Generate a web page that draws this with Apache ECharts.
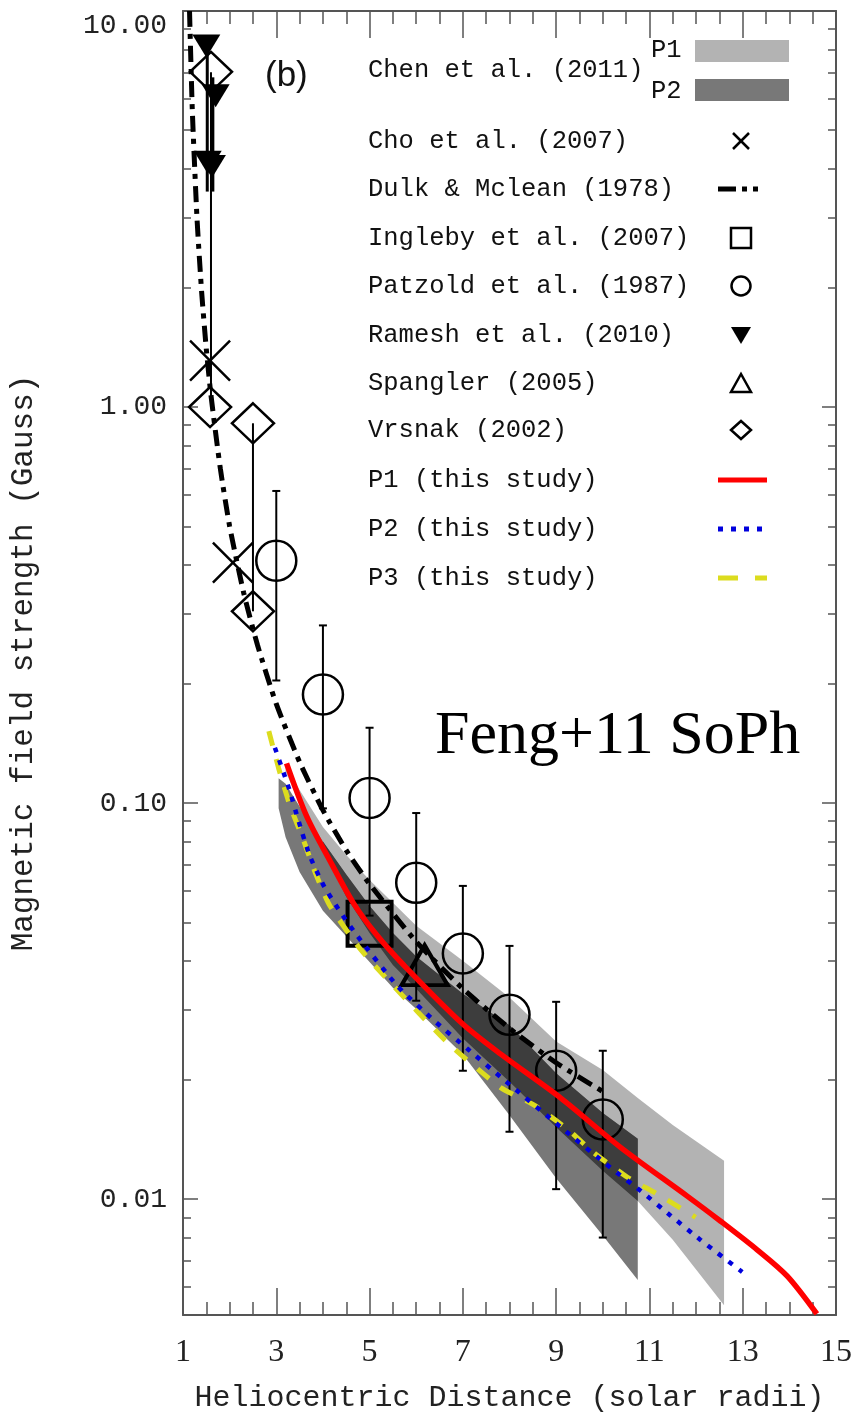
<!DOCTYPE html>
<html><head><meta charset="utf-8">
<script src="https://cdn.jsdelivr.net/npm/echarts@6/dist/echarts.min.js"></script>
<style>html,body{margin:0;padding:0;background:#fff}#c{width:859px;height:1418px}</style>
</head><body><div id="c"></div>
<script>
// ---------- data ----------
const X_TICK_LABELS = ['1','3','5','7','9','11','13','15'];
const Y_MAJOR = [0.01, 0.1, 1, 10];
const Y_MINOR = [0.006,0.007,0.008,0.009,0.02,0.03,0.04,0.05,0.06,0.07,0.08,0.09,0.2,0.3,0.4,0.5,0.6,0.7,0.8,0.9,2,3,4,5,6,7,8,9];

// Chen et al. (2011) bands
const P1_X  = [3.2, 3.5, 4.0, 4.5, 5.0, 5.5, 6.0, 7.0, 8.0, 9.0, 10.0, 10.75, 11.5, 12.6];
const P1_HI = [0.124,0.108,0.087,0.074,0.064,0.056,0.049,0.040,0.0323,0.0250,0.0212,0.0180,0.0154,0.0125];
const P1_LO = [0.120,0.100,0.077,0.058,0.047,0.039,0.034,0.0255,0.0198,0.0152,0.0118,0.0099,0.0079,0.0054];
const P2_X  = [3.05, 3.2, 3.5, 4.0, 4.5, 5.0, 5.5, 6.0, 7.0, 8.0, 9.0, 10.0, 10.75];
const P2_HI = [0.1156,0.112,0.098,0.080,0.066,0.055,0.047,0.041,0.033,0.0275,0.0208,0.0165,0.0142];
const P2_LO = [0.0971,0.082,0.067,0.0535,0.0461,0.0397,0.0342,0.0302,0.0232,0.0163,0.0113,0.0081,0.00625];

// Dulk & McLean (1978)
const DULK_X = [1.14,1.2,1.3,1.4,1.5,1.6,1.8,2.0,2.3,2.6,3.0,3.5,4.0,4.5,5.0,6.0,7.0,8.0,9.0,10.0];
const DULK_Y = [10.0,5.6,3.0,1.95,1.40,1.07,0.70,0.50,0.34,0.25,0.178,0.127,0.096,0.076,0.0625,0.0447,0.034,0.027,0.0221,0.0187];

// Cho et al. (2007)
const CHO_X = [1.58, 2.07];
const CHO_Y = [1.31, 0.405];
// Ingleby et al. (2007)
const ING_X = [5.0];
const ING_Y = [0.0496];
// Patzold et al. (1987)
const PATZ_X  = [3, 4, 5, 6, 7, 8, 9, 10];
const PATZ_Y  = [0.409, 0.188, 0.103, 0.0629, 0.0417, 0.0292, 0.0211, 0.0159];
const PATZ_LO = [0.204, 0.097, 0.052, 0.0317, 0.0211, 0.0148, 0.0106, 0.0080];
const PATZ_HI = [0.614, 0.281, 0.155, 0.0944, 0.0618, 0.0436, 0.0315, 0.0237];
// Ramesh et al. (2010)
const RAM_X = [1.50, 1.70, 1.53, 1.62];
const RAM_Y = [8.16, 6.11, 4.15, 4.05];
const RAM_BAR_X  = [1.52, 1.64];
const RAM_BAR_LO = [3.5, 3.5];
const RAM_BAR_HI = [8.2, 6.8];
// Spangler (2005)
const SPA_X = [6.18];
const SPA_Y = [0.039];
// Vrsnak (2002)
const VRS_X = [1.60, 1.58, 2.50, 2.50];
const VRS_Y = [7.02, 1.00, 0.91, 0.305];
const VRS_BAR_X  = [1.60, 2.50];
const VRS_BAR_LO = [1.0, 0.305];
const VRS_BAR_HI = [7.0, 0.91];

// This study
const P1L_X = [3.22,3.65,4.14,4.65,5.15,5.74,6.98,7.82,9.10,10.38,11.81,12.52,13.31,13.95,14.59];
const P1L_Y = [0.126,0.0927,0.0719,0.0560,0.0465,0.0389,0.0278,0.0232,0.0180,0.01352,0.01018,0.00881,0.00745,0.0064,0.00513];
const P2L_X = [2.97,3.27,3.48,3.71,4.01,4.36,4.75,5.6,6.39,7.11,7.82,9.10,10.17,10.81,11.45,12.09,12.99];
const P2L_Y = [0.138,0.109,0.090,0.074,0.0621,0.0534,0.046,0.0345,0.0282,0.0239,0.0203,0.0152,0.0120,0.0105,0.0091,0.0079,0.00655];
const P3L_X = [2.84,3.05,3.29,3.59,3.82,4.14,4.83,6.0,6.71,7.82,8.52,9.25,9.81,10.53,11.17,11.99];
const P3L_Y = [0.152,0.1225,0.0989,0.0802,0.0675,0.0553,0.0424,0.030,0.0246,0.0191,0.0173,0.0150,0.0131,0.01136,0.0103,0.0090];

// ---------- helpers ----------
const zip = (xs, ys) => xs.map((x, i) => [x, ys[i]]);
const zip3 = (xs, a, b) => xs.map((x, i) => [x, a[i], b[i]]);

// overlap of the two Chen bands (same x positions)
const OV = [];
P2_X.forEach((x, i) => {
  const j = P1_X.indexOf(x);
  if (j < 0) return;
  const lo = Math.max(P1_LO[j], P2_LO[i]);
  const hi = Math.min(P1_HI[j], P2_HI[i]);
  if (hi > lo) OV.push([x, lo, hi]);
});

function band(name, data, color, z) {
  return {
    type: 'custom', name, data, z, silent: true, clip: true,
    encode: { x: 0, y: [1, 2] },
    renderItem: (params, api) => {
      if (params.dataIndex !== 0) return null;
      const pts = [];
      for (let i = 0; i < data.length; i++) pts.push(api.coord([data[i][0], data[i][2]]));
      for (let i = data.length - 1; i >= 0; i--) pts.push(api.coord([data[i][0], data[i][1]]));
      return { type: 'polygon', shape: { points: pts }, style: { fill: color } };
    }
  };
}
function errbars(name, data, width, cap, z) {
  return {
    type: 'custom', name, data, z, silent: true, clip: true,
    encode: { x: 0, y: [1, 2] },
    renderItem: (params, api) => {
      const lo = api.coord([api.value(0), api.value(1)]);
      const hi = api.coord([api.value(0), api.value(2)]);
      const st = { stroke: '#000', lineWidth: width };
      const ch = [{ type: 'line', shape: { x1: lo[0], y1: lo[1], x2: hi[0], y2: hi[1] }, style: st }];
      if (cap) {
        ch.push({ type: 'line', shape: { x1: lo[0] - cap, y1: lo[1], x2: lo[0] + cap, y2: lo[1] }, style: st });
        ch.push({ type: 'line', shape: { x1: hi[0] - cap, y1: hi[1], x2: hi[0] + cap, y2: hi[1] }, style: st });
      }
      return { type: 'group', children: ch };
    }
  };
}
const openStyle = (w) => ({ color: 'rgba(0,0,0,0)', borderColor: '#000', borderWidth: w, opacity: 1 });

const AX = '#555';
const MONO = '"Liberation Mono", "DejaVu Sans Mono", monospace';
const SERIF = '"Liberation Serif", "DejaVu Serif", serif';
const yBase = { type: 'log', min: 0.0051, max: 10, logBase: 10, splitLine: { show: false }, axisPointer: { show: false } };

// ---------- legend (graphic) ----------
const LEG_TEXT_X = 368, LEG_SYM_X = 741;
const legendRows = [
  ['Chen et al. (2011)', 70], ['Cho et al. (2007)', 141], ['Dulk & Mclean (1978)', 189],
  ['Ingleby et al. (2007)', 238], ['Patzold et al. (1987)', 286], ['Ramesh et al. (2010)', 335],
  ['Spangler (2005)', 383], ['Vrsnak (2002)', 430], ['P1 (this study)', 480],
  ['P2 (this study)', 529], ['P3 (this study)', 578]
];
const tStyle = (text, x, y, size, fam, align) => ({ type: 'text', z: 100, style: { text, x, y, font: size + 'px ' + fam, fill: '#111', align: align || 'left', verticalAlign: 'middle' } });
const graphics = legendRows.map(r => tStyle(r[0], LEG_TEXT_X, r[1], 25.5, MONO));
graphics.push(tStyle('P1', 651, 50, 25.5, MONO), tStyle('P2', 651, 91, 25.5, MONO));
graphics.push({ type: 'rect', z: 100, shape: { x: 695, y: 40, width: 94, height: 22 }, style: { fill: '#b3b3b3' } });
graphics.push({ type: 'rect', z: 100, shape: { x: 695, y: 79, width: 94, height: 22 }, style: { fill: '#787878' } });
const S = 8;
graphics.push({ type: 'line', z: 100, shape: { x1: LEG_SYM_X - S, y1: 141 - S, x2: LEG_SYM_X + S, y2: 141 + S }, style: { stroke: '#000', lineWidth: 2.5 } });
graphics.push({ type: 'line', z: 100, shape: { x1: LEG_SYM_X - S, y1: 141 + S, x2: LEG_SYM_X + S, y2: 141 - S }, style: { stroke: '#000', lineWidth: 2.5 } });
graphics.push({ type: 'line', z: 100, shape: { x1: 718, y1: 189, x2: 767, y2: 189 }, style: { stroke: '#000', lineWidth: 5, lineDash: [18, 6, 5, 6, 5, 20] } });
graphics.push({ type: 'rect', z: 100, shape: { x: LEG_SYM_X - 10, y: 238 - 10, width: 20, height: 20 }, style: { fill: 'none', stroke: '#000', lineWidth: 2.5 } });
graphics.push({ type: 'circle', z: 100, shape: { cx: LEG_SYM_X, cy: 286, r: 9.5 }, style: { fill: 'none', stroke: '#000', lineWidth: 2.5 } });
graphics.push({ type: 'polygon', z: 100, shape: { points: [[LEG_SYM_X - 10, 327], [LEG_SYM_X + 10, 327], [LEG_SYM_X, 344]] }, style: { fill: '#000' } });
graphics.push({ type: 'polygon', z: 100, shape: { points: [[LEG_SYM_X - 10, 392], [LEG_SYM_X + 10, 392], [LEG_SYM_X, 374]] }, style: { fill: 'none', stroke: '#000', lineWidth: 2.5 } });
graphics.push({ type: 'polygon', z: 100, shape: { points: [[LEG_SYM_X - 10, 430], [LEG_SYM_X, 421], [LEG_SYM_X + 10, 430], [LEG_SYM_X, 439]] }, style: { fill: 'none', stroke: '#000', lineWidth: 2.5 } });
graphics.push({ type: 'line', z: 100, shape: { x1: 718, y1: 480, x2: 767, y2: 480 }, style: { stroke: '#ff0000', lineWidth: 5 } });
graphics.push({ type: 'line', z: 100, shape: { x1: 718, y1: 529, x2: 764, y2: 529 }, style: { stroke: '#0000dd', lineWidth: 5, lineDash: [5, 8] } });
graphics.push({ type: 'line', z: 100, shape: { x1: 718, y1: 578, x2: 767, y2: 578 }, style: { stroke: '#dcdc1e', lineWidth: 5, lineDash: [20, 17] } });
graphics.push(tStyle('(b)', 265, 76, 35, '"Liberation Sans", Arial, sans-serif'));
graphics.push({ type: 'text', z: 100, style: { text: 'Feng+11 SoPh', x: 435, y: 768, font: '62px "Liberation Serif", "Times New Roman", serif', fill: '#000', align: 'left', verticalAlign: 'bottom' } });

const option = {
  animation: false,
  backgroundColor: '#fff',
  grid: { left: 181, right: 23, top: 11, bottom: 100, containLabel: false },
  xAxis: [
    { type: 'value', position: 'bottom', min: 1, max: 15, interval: 2,
      axisLine: { show: true, lineStyle: { color: AX, width: 2 } },
      axisTick: { inside: true, length: 27, lineStyle: { color: AX, width: 1.5 } },
      minorTick: { show: true, splitNumber: 4, length: 13, lineStyle: { color: AX, width: 1.5 } },
      splitLine: { show: false },
      axisLabel: { margin: 22, fontSize: 32, fontFamily: SERIF, color: '#222', formatter: v => String(v) },
      name: 'Heliocentric Distance (solar radii)', nameLocation: 'middle', nameGap: 68,
      nameTextStyle: { fontSize: 30, fontFamily: MONO, color: '#222' } },
    { type: 'value', position: 'top', min: 1, max: 15, interval: 2,
      axisLine: { show: true, lineStyle: { color: AX, width: 2 } },
      axisTick: { inside: true, length: 27, lineStyle: { color: AX, width: 1.5 } },
      minorTick: { show: true, splitNumber: 4, length: 13, lineStyle: { color: AX, width: 1.5 } },
      splitLine: { show: false }, axisLabel: { show: false } }
  ],
  yAxis: [
    Object.assign({}, yBase, { position: 'left',
      axisLine: { show: true, lineStyle: { color: AX, width: 2 } },
      axisTick: { inside: true, length: 15, customValues: Y_MAJOR, lineStyle: { color: AX, width: 1.5 } },
      axisLabel: { customValues: Y_MAJOR, margin: 16, fontSize: 28, fontFamily: MONO, color: '#222',
        formatter: v => v >= 9.99 ? '{t|10.00}' : v.toFixed(2),
        rich: { t: { fontSize: 28, fontFamily: MONO, color: '#222', padding: [30, 0, 0, 0] } } },
      name: 'Magnetic field strength (Gauss)', nameLocation: 'middle', nameGap: 144,
      nameTextStyle: { fontSize: 31, fontFamily: MONO, color: '#222' } }),
    Object.assign({}, yBase, { position: 'left',
      axisLine: { show: false },
      axisTick: { inside: true, length: 8, customValues: Y_MINOR, lineStyle: { color: AX, width: 1.5 } },
      axisLabel: { show: false } }),
    Object.assign({}, yBase, { position: 'right',
      axisLine: { show: true, lineStyle: { color: AX, width: 2 } },
      axisTick: { inside: true, length: 14, customValues: Y_MAJOR, lineStyle: { color: AX, width: 1.5 } },
      axisLabel: { show: false } }),
    Object.assign({}, yBase, { position: 'right',
      axisLine: { show: false },
      axisTick: { inside: true, length: 8, customValues: Y_MINOR, lineStyle: { color: AX, width: 1.5 } },
      axisLabel: { show: false } })
  ],
  graphic: graphics,
  series: [
    band('Chen P1', zip3(P1_X, P1_LO, P1_HI), '#b3b3b3', 1),
    band('Chen P2', zip3(P2_X, P2_LO, P2_HI), '#787878', 1),
    band('Chen overlap', OV, '#3d3d3d', 1),
    { type: 'line', name: 'Dulk & Mclean (1978)', data: zip(DULK_X, DULK_Y), z: 3, showSymbol: false, smooth: 0.2, clip: true,
      lineStyle: { color: '#000', width: 5, type: [16, 7, 5, 7] } },
    errbars('Patzold err', zip3(PATZ_X, PATZ_LO, PATZ_HI), 2, 4, 4),
    errbars('Ramesh err', zip3(RAM_BAR_X, RAM_BAR_LO, RAM_BAR_HI), 3, 0, 4),
    errbars('Vrsnak err', zip3(VRS_BAR_X, VRS_BAR_LO, VRS_BAR_HI), 2, 0, 4),
    { type: 'scatter', name: 'Patzold et al. (1987)', data: zip(PATZ_X, PATZ_Y), z: 5, symbol: 'circle', symbolSize: 40, itemStyle: openStyle(2.5) },
    { type: 'scatter', name: 'Cho et al. (2007)', data: zip(CHO_X, CHO_Y), z: 5, symbol: 'path://M0,0L40,40M40,0L0,40', symbolSize: 40, itemStyle: openStyle(2.5) },
    { type: 'scatter', name: 'Ingleby et al. (2007)', data: zip(ING_X, ING_Y), z: 5, symbol: 'rect', symbolSize: 44, itemStyle: openStyle(4) },
    { type: 'scatter', name: 'Spangler (2005)', data: zip(SPA_X, SPA_Y), z: 5, symbol: 'triangle', symbolSize: [46, 40], itemStyle: openStyle(4) },
    { type: 'scatter', name: 'Vrsnak (2002)', data: zip(VRS_X, VRS_Y), z: 5, symbol: 'diamond', symbolSize: [42, 40], itemStyle: openStyle(2.5) },
    { type: 'scatter', name: 'Ramesh et al. (2010)', data: zip(RAM_X, RAM_Y), z: 5, symbol: 'triangle', symbolRotate: 180, symbolSize: [28, 23], itemStyle: { color: '#000', opacity: 1 } },
    { type: 'line', name: 'P3 (this study)', data: zip(P3L_X, P3L_Y), z: 6, showSymbol: false, smooth: 0.2, clip: true,
      lineStyle: { color: '#dcdc1e', width: 5, type: [15, 14] } },
    { type: 'line', name: 'P2 (this study)', data: zip(P2L_X, P2L_Y), z: 6, showSymbol: false, smooth: 0.2, clip: true,
      lineStyle: { color: '#0000dd', width: 4.5, type: [5, 8] } },
    { type: 'line', name: 'P1 (this study)', data: zip(P1L_X, P1L_Y), z: 7, showSymbol: false, smooth: 0.3, clip: true,
      lineStyle: { color: '#ff0000', width: 5.5 } }
  ]
};
const chart = echarts.init(document.getElementById('c'), null, { renderer: 'canvas' });
chart.setOption(option);
</script></body></html>
